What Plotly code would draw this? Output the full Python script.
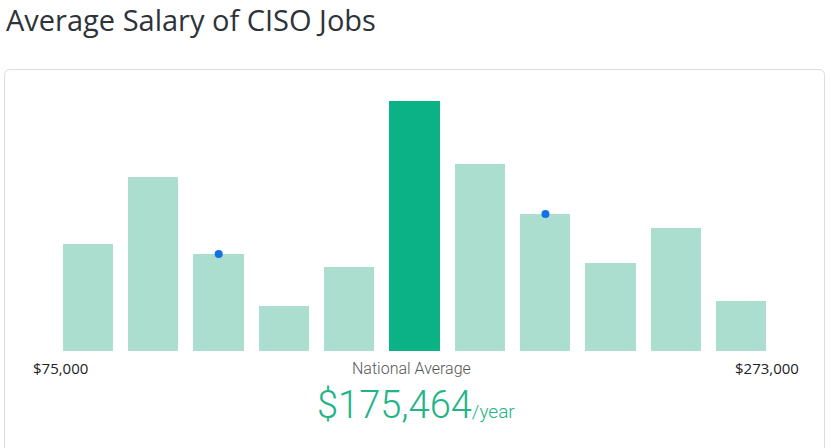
import plotly.graph_objects as go

# Data
categories = list(range(11))
bar_values = [107, 174, 97, 45, 84, 250, 187, 137, 88, 123, 50]
highlight_index = 5
marker_indices = [2, 7]
min_label = "$75,000"
max_label = "$273,000"
avg_label = "National Average"
avg_value = "$175,464"
title_text = "Average Salary of CISO Jobs"

W, H = 831, 448
LIGHT = "#abdecf"
DARK = "#0ab286"
BLUE = "#1273e6"

colors = [DARK if i == highlight_index else LIGHT for i in categories]

fig = go.Figure()
fig.add_trace(go.Bar(x=categories, y=bar_values, marker=dict(color=colors, line=dict(width=0)),
                     width=0.77, hoverinfo="skip"))
fig.add_trace(go.Scatter(x=[categories[i] for i in marker_indices],
                         y=[bar_values[i] for i in marker_indices],
                         mode="markers", marker=dict(color=BLUE, size=8), hoverinfo="skip"))

def px(x): return x / W
def py(y): return 1 - y / H

# card path with rounded corners (paper coords)
x0, y0, x1, y1, r = 4.5, 69.5, 824.5, 470, 6
path = (f"M {px(x0+r)},{py(y0)} L {px(x1-r)},{py(y0)} "
        f"Q {px(x1)},{py(y0)} {px(x1)},{py(y0+r)} L {px(x1)},{py(y1)} "
        f"M {px(x0)},{py(y1)} L {px(x0)},{py(y0+r)} Q {px(x0)},{py(y0)} {px(x0+r)},{py(y0)}")

fig.update_layout(
    width=W, height=H, margin=dict(l=0, r=0, t=0, b=0),
    paper_bgcolor="white", plot_bgcolor="white", showlegend=False, bargap=0,
    xaxis=dict(domain=[px(55.3), px(774.2)], range=[-0.5, 10.5], visible=False, fixedrange=True),
    yaxis=dict(domain=[py(351), py(101)], range=[0, 250], visible=False, fixedrange=True),
    shapes=[dict(type="path", path=path, xref="paper", yref="paper",
                 line=dict(color="#dcdcdc", width=1), layer="below")],
    annotations=[
        dict(text=title_text, x=px(4), y=py(20), xref="paper", yref="paper", xanchor="left",
             yanchor="middle", showarrow=False,
             font=dict(family="Open Sans, Noto Sans, sans-serif", size=29, color="#2d3339")),
        dict(text=min_label, x=px(31), y=py(368), xref="paper", yref="paper", xanchor="left",
             yanchor="middle", showarrow=False,
             font=dict(family="Open Sans, sans-serif", size=15, color="#222")),
        dict(text=max_label, x=px(801), y=py(368), xref="paper", yref="paper", xanchor="right",
             yanchor="middle", showarrow=False,
             font=dict(family="Open Sans, sans-serif", size=15, color="#222")),
        dict(text=avg_label, x=px(411), y=py(368), xref="paper", yref="paper", xanchor="center",
             yanchor="middle", showarrow=False,
             font=dict(family="Roboto, Open Sans, sans-serif", size=16, color="#555", weight=300)),
        dict(text=avg_value + "<span style='font-size:19px'>/year</span>", x=px(416), y=py(405),
             xref="paper", yref="paper", xanchor="center", yanchor="middle", showarrow=False,
             font=dict(family="Roboto, Open Sans, sans-serif", size=38, color="#22b487", weight=300)),
    ],
)

fig.write_html("out.html", config={"displayModeBar": False},
               post_script="document.body.style.margin='0';document.body.style.overflow='hidden';")
